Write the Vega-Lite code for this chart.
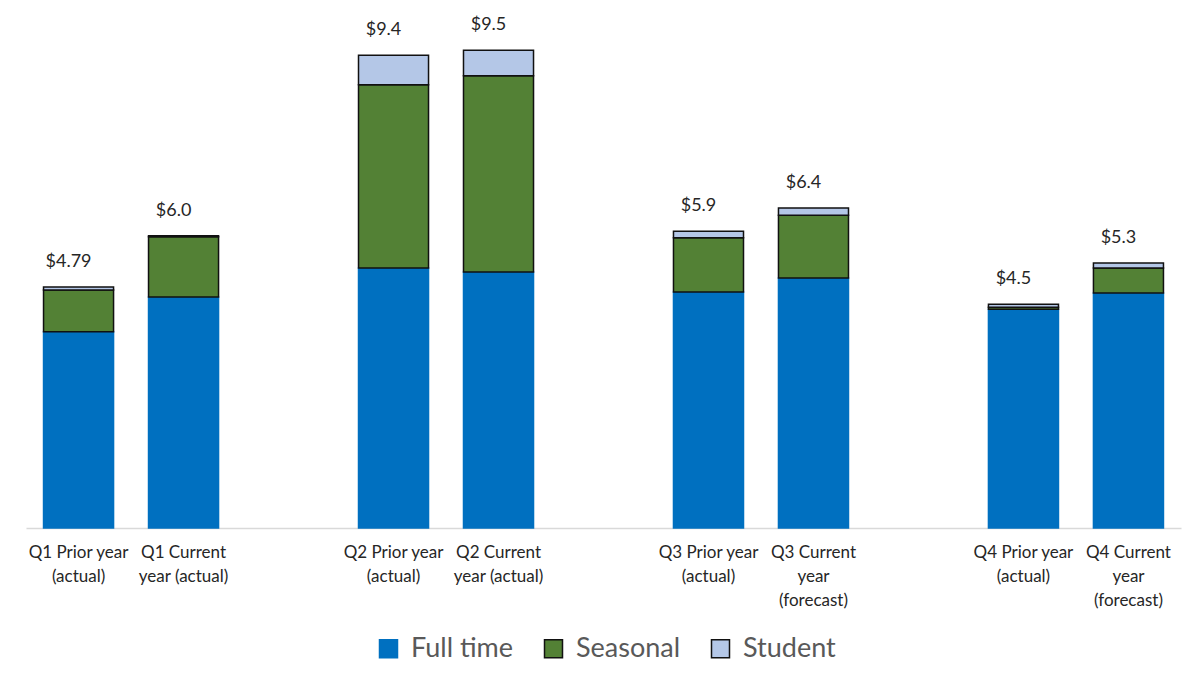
{
  "$schema": "https://vega.github.io/schema/vega-lite/v6.json",
  "width": 1155,
  "height": 503,
  "padding": {"left": 26, "top": 16, "right": 12, "bottom": 5},
  "background": "white",
  "config": {"view": {"stroke": null}, "font": "Lato"},
  "datasets": {
    "segments": [
      {"bar": "Q1 Prior year|(actual)", "type": "Full time", "value": 3.90},
      {"bar": "Q1 Prior year|(actual)", "type": "Seasonal", "value": 0.83},
      {"bar": "Q1 Prior year|(actual)", "type": "Student", "value": 0.06},
      {"bar": "Q1 Current|year (actual)", "type": "Full time", "value": 4.59},
      {"bar": "Q1 Current|year (actual)", "type": "Seasonal", "value": 1.20},
      {"bar": "Q1 Current|year (actual)", "type": "Student", "value": 0.02},
      {"bar": "Q2 Prior year|(actual)", "type": "Full time", "value": 5.17},
      {"bar": "Q2 Prior year|(actual)", "type": "Seasonal", "value": 3.64},
      {"bar": "Q2 Prior year|(actual)", "type": "Student", "value": 0.59},
      {"bar": "Q2 Current|year (actual)", "type": "Full time", "value": 5.09},
      {"bar": "Q2 Current|year (actual)", "type": "Seasonal", "value": 3.90},
      {"bar": "Q2 Current|year (actual)", "type": "Student", "value": 0.51},
      {"bar": "Q3 Prior year|(actual)", "type": "Full time", "value": 4.69},
      {"bar": "Q3 Prior year|(actual)", "type": "Seasonal", "value": 1.08},
      {"bar": "Q3 Prior year|(actual)", "type": "Student", "value": 0.13},
      {"bar": "Q3 Current|year|(forecast)", "type": "Full time", "value": 4.97},
      {"bar": "Q3 Current|year|(forecast)", "type": "Seasonal", "value": 1.25},
      {"bar": "Q3 Current|year|(forecast)", "type": "Student", "value": 0.14},
      {"bar": "Q4 Prior year|(actual)", "type": "Full time", "value": 4.35},
      {"bar": "Q4 Prior year|(actual)", "type": "Seasonal", "value": 0.04},
      {"bar": "Q4 Prior year|(actual)", "type": "Student", "value": 0.06},
      {"bar": "Q4 Current|year|(forecast)", "type": "Full time", "value": 4.67},
      {"bar": "Q4 Current|year|(forecast)", "type": "Seasonal", "value": 0.50},
      {"bar": "Q4 Current|year|(forecast)", "type": "Student", "value": 0.10}
    ],
    "totals": [
      {"bar": "Q1 Prior year|(actual)", "total": 4.79, "label": "$4.79"},
      {"bar": "Q1 Current|year (actual)", "total": 5.81, "label": "$6.0"},
      {"bar": "Q2 Prior year|(actual)", "total": 9.40, "label": "$9.4"},
      {"bar": "Q2 Current|year (actual)", "total": 9.50, "label": "$9.5"},
      {"bar": "Q3 Prior year|(actual)", "total": 5.90, "label": "$5.9"},
      {"bar": "Q3 Current|year|(forecast)", "total": 6.36, "label": "$6.4"},
      {"bar": "Q4 Prior year|(actual)", "total": 4.45, "label": "$4.5"},
      {"bar": "Q4 Current|year|(forecast)", "total": 5.27, "label": "$5.3"}
    ]
  },
  "encoding": {
    "x": {
      "field": "bar",
      "type": "nominal",
      "scale": {
        "domain": ["Q1 Prior year|(actual)", "Q1 Current|year (actual)", " ", "Q2 Prior year|(actual)", "Q2 Current|year (actual)", "  ", "Q3 Prior year|(actual)", "Q3 Current|year|(forecast)", "   ", "Q4 Prior year|(actual)", "Q4 Current|year|(forecast)"],
        "paddingInner": 0.333,
        "paddingOuter": 0.167
      },
      "axis": {
        "title": null,
        "labelAngle": 0,
        "labelExpr": "split(datum.label, '|')",
        "labelFontSize": 17,
        "labelLineHeight": 24,
        "labelColor": "#262626",
        "labelPadding": 16,
        "labelBaseline": "top",
        "ticks": false,
        "domainColor": "#D9D9D9",
        "domainWidth": 1.5
      }
    }
  },
  "layer": [
    {
      "data": {"name": "segments"},
      "mark": {"type": "bar", "strokeWidth": 1.5},
      "encoding": {
        "y": {
          "field": "value",
          "type": "quantitative",
          "stack": "zero",
          "scale": {"domain": [0, 10], "nice": false},
          "axis": null
        },
        "color": {
          "field": "type",
          "type": "nominal",
          "scale": {"domain": ["Full time", "Seasonal", "Student"], "range": ["#0070C0", "#538135", "#B4C7E7"]},
          "legend": {
            "title": null,
            "orient": "none",
            "legendX": 349,
            "legendY": 610,
            "direction": "horizontal",
            "symbolType": "square",
            "symbolSize": 324,
            "symbolStrokeWidth": 1.5,
            "labelFontSize": 27,
            "labelColor": "#595959",
            "columnPadding": 26,
            "labelOffset": 9
          }
        },
        "stroke": {
          "field": "type",
          "type": "nominal",
          "scale": {"domain": ["Full time", "Seasonal", "Student"], "range": ["#0070C0", "#111111", "#111111"]},
          "legend": null
        },
        "order": {"field": "type", "sort": "ascending"}
      }
    },
    {
      "data": {"name": "totals"},
      "mark": {"type": "text", "fontSize": 18, "dx": -10, "dy": -20, "baseline": "alphabetic", "color": "#262626"},
      "encoding": {
        "y": {"field": "total", "type": "quantitative"},
        "text": {"field": "label"}
      }
    }
  ]
}
